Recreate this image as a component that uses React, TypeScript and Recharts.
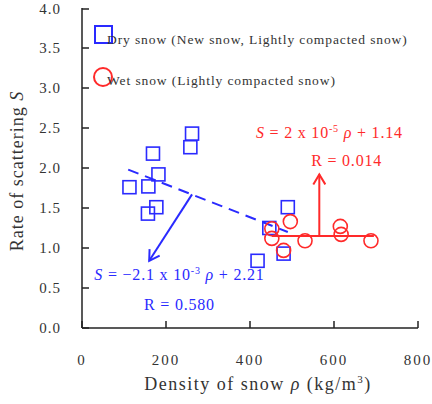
import { ComposedChart, Scatter, Line, XAxis, YAxis, Legend, ReferenceDot } from 'recharts'

// dry snow (squares)
const dryDensity = [262, 258, 169, 182, 113, 158, 177, 157, 490, 446, 418, 480]
const dryS = [2.43, 2.26, 2.18, 1.92, 1.76, 1.77, 1.51, 1.43, 1.51, 1.25, 0.84, 0.93]
// wet snow (circles)
const wetDensity = [496, 452, 452, 531, 480, 615, 617, 688]
const wetS = [1.33, 1.24, 1.12, 1.09, 0.97, 1.27, 1.17, 1.09]
// fit lines and pointer arrows
const dryFitDensity = [110, 490]
const dryFitS = [1.98, 1.2]
const wetFitDensity = [452, 695]
const wetFitS = [1.15, 1.15]
const dryArrowDensity = [262, 160]
const dryArrowS = [1.67, 0.84]
const wetArrowDensity = [565, 565]
const wetArrowS = [1.15, 1.92]

const xTicks = [0, 200, 400, 600, 800]
const yTicks = [0, 0.5, 1, 1.5, 2, 2.5, 3, 3.5, 4]

const BLUE = '#2a2aff'
const RED = '#ff2a2a'
const INK = '#333'
const FONT = '"Liberation Serif", "DejaVu Serif", serif'

const zip = (xs: number[], ys: number[]) => xs.map((x, i) => ({ x, y: ys[i] }))
const dry = zip(dryDensity, dryS)
const wet = zip(wetDensity, wetS)

const Square = (p: any) => <rect x={p.cx - 6.5} y={p.cy - 6.5} width={13} height={13} fill="none" stroke={BLUE} strokeWidth={1.6} />
const Ring = (p: any) => <circle cx={p.cx} cy={p.cy} r={7} fill="none" stroke={RED} strokeWidth={1.6} />

const YTick = ({ x, y, payload }: any) => (
  <g>
    <line x1={x} x2={x + 7} y1={y} y2={y} stroke="#222" strokeWidth={1.5} />
    <text x={x - 21} y={y + 5} textAnchor="end" fontSize={15} fill={INK} fontFamily={FONT} letterSpacing={1}>{payload.value.toFixed(1)}</text>
  </g>
)
const XTick = ({ x, y, payload }: any) => (
  <g>
    <line x1={x} x2={x} y1={y} y2={y - 7} stroke="#222" strokeWidth={1.5} />
    <text x={x} y={y + 37} textAnchor="middle" fontSize={15} fill={INK} fontFamily={FONT} letterSpacing={2}>{payload.value}</text>
  </g>
)

const YTitle = ({ viewBox }: any) => {
  const cx = viewBox.x + 17, cy = viewBox.y + viewBox.height / 2 + 3
  return (
    <text x={cx} y={cy} transform={`rotate(-90 ${cx} ${cy})`} textAnchor="middle" dominantBaseline="central" fontSize={18} fill={INK} fontFamily={FONT} letterSpacing={1}>
      Rate of scattering <tspan fontStyle="italic">S</tspan>
    </text>
  )
}
const XTitle = ({ viewBox }: any) => (
  <text x={viewBox.x + viewBox.width / 2 + 8} y={viewBox.y + 62} textAnchor="middle" fontSize={18} fill={INK} fontFamily={FONT} letterSpacing={1.5}>
    Density of snow <tspan fontStyle="italic">ρ</tspan> (kg/m<tspan dy={-7} fontSize={11}>3</tspan><tspan dy={7}>)</tspan>
  </text>
)

const LegendBox = () => (
  <svg width={432} height={100}>
    <rect x={95} y={26} width={17} height={17} fill="none" stroke={BLUE} strokeWidth={2} />
    <text x={107} y={44} fontSize={13.5} fill={INK} fontFamily={FONT} letterSpacing={0.9}>Dry snow (New snow, Lightly compacted snow)</text>
    <circle cx={103} cy={77} r={9} fill="none" stroke={RED} strokeWidth={2} />
    <text x={107} y={85} fontSize={13.5} fill={INK} fontFamily={FONT} letterSpacing={0.9}>Wet snow (Lightly compacted snow)</text>
  </svg>
)

const eq = (color: string, lines: (string | JSX.Element)[]) => (props: any) => {
  const { viewBox } = props
  return (
    <text x={viewBox.x} y={viewBox.y} textAnchor="middle" fontSize={16} fill={color} fontFamily={FONT} letterSpacing={0.8}>
      {lines}
    </text>
  )
}

export default function App() {
  return (
    <div style={{ position: 'fixed', left: 0, top: 0, background: '#fff' }}>
      <ComposedChart width={432} height={404} margin={{ top: 8, right: 14, bottom: 0, left: 0 }}>
        <defs>
          <marker id="arrBlue" markerWidth={14} markerHeight={14} refX={11} refY={7} orient="auto" markerUnits="userSpaceOnUse">
            <path d="M1,1 L11,7 L1,13" fill="none" stroke={BLUE} strokeWidth={2} />
          </marker>
          <marker id="arrRed" markerWidth={14} markerHeight={14} refX={11} refY={7} orient="auto" markerUnits="userSpaceOnUse">
            <path d="M1,1 L11,7 L1,13" fill="none" stroke={RED} strokeWidth={2} />
          </marker>
        </defs>
        <XAxis dataKey="x" type="number" domain={[0, 800]} ticks={xTicks} allowDuplicatedCategory={false} height={76}
          tickSize={0} tickMargin={0} tickLine={false} tick={<XTick />} axisLine={{ stroke: '#222', strokeWidth: 1.5 }} label={<XTitle />} />
        <YAxis dataKey="y" type="number" domain={[0, 4]} ticks={yTicks} width={82}
          tickSize={0} tickMargin={0} tickLine={false} tick={<YTick />} axisLine={{ stroke: '#222', strokeWidth: 1.5 }} label={<YTitle />} />
        <XAxis xAxisId="top" orientation="top" type="number" domain={[0, 800]} height={0} tick={false} tickLine={false} axisLine={{ stroke: '#222', strokeWidth: 1.5 }} />
        <YAxis yAxisId="right" orientation="right" type="number" domain={[0, 4]} width={0} tick={false} tickLine={false} axisLine={{ stroke: '#222', strokeWidth: 1.5 }} />
        <Legend layout="horizontal" verticalAlign="middle" align="center" content={<LegendBox />}
          wrapperStyle={{ position: 'absolute', top: 0, left: 0, width: 432, height: 100 }} />
        <Line data={zip(dryFitDensity, dryFitS)} dataKey="y" stroke={BLUE} strokeWidth={2} strokeDasharray="11 7" dot={false} isAnimationActive={false} legendType="none" />
        <Line data={zip(dryArrowDensity, dryArrowS)} dataKey="y" stroke={BLUE} strokeWidth={2} dot={false} markerEnd="url(#arrBlue)" isAnimationActive={false} legendType="none" />
        <Line data={zip(wetFitDensity, wetFitS)} dataKey="y" stroke={RED} strokeWidth={2.2} dot={false} isAnimationActive={false} legendType="none" />
        <Line data={zip(wetArrowDensity, wetArrowS)} dataKey="y" stroke={RED} strokeWidth={2} dot={false} markerEnd="url(#arrRed)" isAnimationActive={false} legendType="none" />
        <Scatter name="Dry snow" data={dry} shape={Square} isAnimationActive={false} />
        <Scatter name="Wet snow" data={wet} shape={Ring} isAnimationActive={false} />
        <ReferenceDot x={589} y={2.38} r={0} stroke="none" label={eq(RED, [
          <tspan key="a" fontStyle="italic">S</tspan>, ' = 2 x 10', <tspan key="b" dy={-6} fontSize={10}>-5</tspan>,
          <tspan key="c" dy={6} fontStyle="italic"> ρ</tspan>, ' + 1.14'])} />
        <ReferenceDot x={630} y={2.03} r={0} stroke="none" label={eq(RED, ['R = 0.014'])} />
        <ReferenceDot x={232} y={0.6} r={0} stroke="none" label={eq(BLUE, [
          <tspan key="a" fontStyle="italic">S</tspan>, ' = −2.1 x 10', <tspan key="b" dy={-6} fontSize={10}>-3</tspan>,
          <tspan key="c" dy={6} fontStyle="italic"> ρ</tspan>, ' + 2.21'])} />
        <ReferenceDot x={232} y={0.23} r={0} stroke="none" label={eq(BLUE, ['R = 0.580'])} />
      </ComposedChart>
    </div>
  )
}
